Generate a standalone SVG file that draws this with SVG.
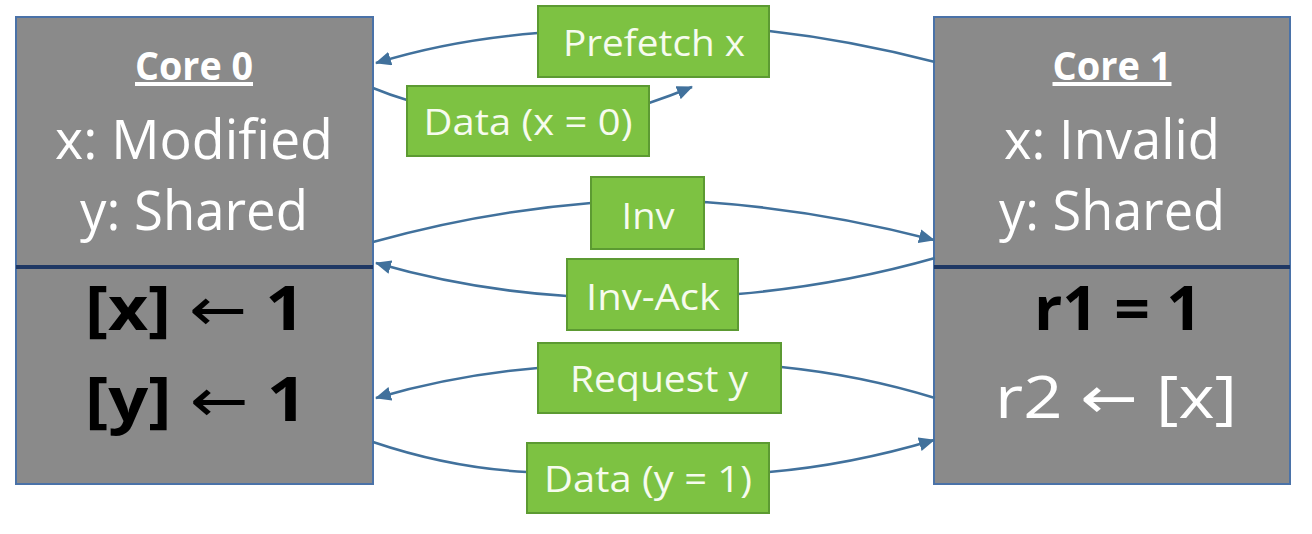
<svg xmlns="http://www.w3.org/2000/svg" width="1312" height="534" viewBox="0 0 1312 534">
  <defs>
    <marker id="arr" markerUnits="userSpaceOnUse" markerWidth="16" markerHeight="14" refX="15" refY="7" orient="auto">
      <path d="M0,0 L16,7 L0,14 z" fill="#41719c"/>
    </marker>
    <style>
      .core { fill: #8a8a8a; stroke: #4a72a8; stroke-width: 2; }
      .divider { stroke: #1f3864; stroke-width: 4; }
      .title { font-family: "Open Sans", "Noto Sans", sans-serif; font-weight: bold; font-size: 40px; fill: #ffffff; text-anchor: middle; text-decoration: underline; }
      .state { font-family: "Open Sans", "Noto Sans", sans-serif; font-size: 54px; fill: #ffffff; text-anchor: middle; }
      .op { font-family: "Open Sans", "Noto Sans", "DejaVu Sans", sans-serif; font-weight: bold; font-size: 60px; fill: #000000; text-anchor: middle; }
      .opw { font-family: "Open Sans", "Noto Sans", "DejaVu Sans", sans-serif; font-size: 58px; fill: #ffffff; text-anchor: middle; }
      .ar { font-family: "DejaVu Sans", sans-serif; font-weight: normal; }
      .conn { fill: none; stroke: #41719c; stroke-width: 2.5; marker-end: url(#arr); }
      .lbl { fill: #7dc242; stroke: #5c9a32; stroke-width: 2; }
      .lbltxt { font-family: "Open Sans", "Noto Sans", sans-serif; font-size: 37px; fill: #f6fbee; text-anchor: middle; }
    </style>
  </defs>
  <rect width="1312" height="534" fill="#ffffff"/>

  <g id="core0">
    <rect class="core" x="16" y="17" width="357" height="467"/>
    <line class="divider" x1="16" y1="267" x2="373" y2="267"/>
    <text class="title" x="194" y="80" textLength="118" lengthAdjust="spacingAndGlyphs">Core 0</text>
    <text class="state" x="194" y="159" textLength="278" lengthAdjust="spacingAndGlyphs">x: Modified</text>
    <text class="state" x="194" y="230" textLength="228" lengthAdjust="spacingAndGlyphs">y: Shared</text>
    <text class="op" x="195" y="330" textLength="220" lengthAdjust="spacingAndGlyphs">[x] <tspan class="ar">←</tspan> 1</text>
    <text class="op" x="196" y="421" textLength="222" lengthAdjust="spacingAndGlyphs">[y] <tspan class="ar">←</tspan> 1</text>
  </g>

  <g id="core1">
    <rect class="core" x="934" y="17" width="356" height="467"/>
    <line class="divider" x1="934" y1="267" x2="1290" y2="267"/>
    <text class="title" x="1112" y="80" textLength="119" lengthAdjust="spacingAndGlyphs">Core 1</text>
    <text class="state" x="1112" y="159" textLength="216" lengthAdjust="spacingAndGlyphs">x: Invalid</text>
    <text class="state" x="1112" y="230" textLength="226" lengthAdjust="spacingAndGlyphs">y: Shared</text>
    <text class="op" x="1118" y="330" textLength="168" lengthAdjust="spacingAndGlyphs">r1 = 1</text>
    <text class="opw" x="1116" y="418" textLength="242" lengthAdjust="spacingAndGlyphs">r2 <tspan class="ar">←</tspan> [x]</text>
  </g>

  <g id="connectors">
    <path class="conn" d="M935,62 Q850,40 769,31 L538,33 Q450,40 376,63"/>
    <path class="conn" d="M373,88 Q390,95 407,100 L649,103 Q670,96 692,87"/>
    <path class="conn" d="M373,242 Q480,212 591,203 L704,202 Q820,210 934,240"/>
    <path class="conn" d="M935,258 Q840,285 738,294 L567,296 Q470,290 376,263"/>
    <path class="conn" d="M935,398 Q860,375 781,367 L538,368 Q455,375 376,398"/>
    <path class="conn" d="M373,442 Q450,468 527,472 L769,472 Q850,465 934,440"/>
  </g>

  <g id="labels">
    <g id="lbl-prefetch">
      <rect class="lbl" x="538" y="6" width="231" height="71"/>
      <text class="lbltxt" x="654" y="56" textLength="182" lengthAdjust="spacingAndGlyphs">Prefetch x</text>
    </g>
    <g id="lbl-data-x">
      <rect class="lbl" x="407" y="86" width="242" height="70"/>
      <text class="lbltxt" x="528" y="135" textLength="209" lengthAdjust="spacingAndGlyphs">Data (x = 0)</text>
    </g>
    <g id="lbl-inv">
      <rect class="lbl" x="591" y="177" width="113" height="72"/>
      <text class="lbltxt" x="648" y="229" textLength="53" lengthAdjust="spacingAndGlyphs">Inv</text>
    </g>
    <g id="lbl-invack">
      <rect class="lbl" x="567" y="259" width="171" height="71"/>
      <text class="lbltxt" x="653" y="310" textLength="134" lengthAdjust="spacingAndGlyphs">Inv-Ack</text>
    </g>
    <g id="lbl-request">
      <rect class="lbl" x="538" y="343" width="243" height="70"/>
      <text class="lbltxt" x="659" y="392" textLength="178" lengthAdjust="spacingAndGlyphs">Request y</text>
    </g>
    <g id="lbl-data-y">
      <rect class="lbl" x="527" y="443" width="242" height="70"/>
      <text class="lbltxt" x="648" y="492" textLength="208" lengthAdjust="spacingAndGlyphs">Data (y = 1)</text>
    </g>
  </g>
</svg>
